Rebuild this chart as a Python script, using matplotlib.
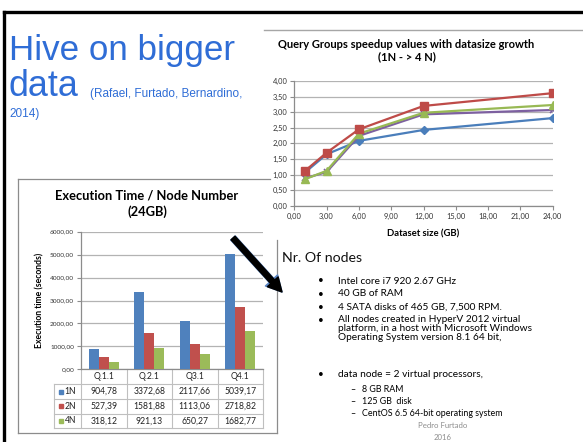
import matplotlib
matplotlib.use("Agg")
import matplotlib.pyplot as plt
import matplotlib.transforms as mtransforms
from matplotlib.patches import FancyArrowPatch
from matplotlib.lines import Line2D

# ---------------- data ----------------
# Line chart: speedup vs dataset size
dataset_sizes = [1, 3, 6, 12, 24]
speedup_blue = [1.07, 1.65, 2.08, 2.43, 2.81]
speedup_red = [1.12, 1.70, 2.45, 3.20, 3.61]
speedup_green = [0.85, 1.12, 2.31, 2.98, 3.23]
speedup_purple = [0.88, 1.08, 2.24, 2.93, 3.07]
line_xticks = [0, 3, 6, 9, 12, 15, 18, 21, 24]
line_yticks = [0, 0.5, 1.0, 1.5, 2.0, 2.5, 3.0, 3.5, 4.0]

# Bar chart: execution time per node number
queries = ["Q.1.1", "Q.2.1", "Q3.1", "Q4.1"]
series_names = ["1N", "2N", "4N"]
time_1n = [904.78, 3372.68, 2117.66, 5039.17]
time_2n = [527.39, 1581.88, 1113.06, 2718.82]
time_4n = [318.12, 921.13, 650.27, 1682.77]
bar_yticks = [0, 1000, 2000, 3000, 4000, 5000, 6000]

bullets = [["Intel core i7 920 2.67 GHz"],
           ["40 GB of RAM"],
           ["4 SATA disks of 465 GB, 7,500 RPM."],
           ["All nodes created in HyperV 2012 virtual",
            "platform, in a host with Microsoft Windows",
            "Operating System version 8.1 64 bit,"]]
sub_bullets = ["8 GB RAM", "125 GB  disk", "CentOS 6.5 64-bit operating system"]

W, H = 583, 442
fig = plt.figure(figsize=(W / 100, H / 100), dpi=100)
fig.patch.set_facecolor("white")

def fx(x):
    return x / W

def fy(y):
    return 1 - y / H

def fline(xs, ys, **kw):
    fig.add_artist(Line2D([fx(x) for x in xs], [fy(y) for y in ys],
                          transform=fig.transFigure, **kw))

def comma(v):
    return f"{v:.2f}".replace(".", ",")

CAL = ["Lato", "DejaVu Sans"]
blue_t = "#2F6DD6"

# ---------------- slide border ----------------
fline([4, W], [12, 12], color="black", lw=2.4, solid_capstyle="projecting")
fline([4, 4], [12, H], color="black", lw=2.4, solid_capstyle="projecting")

# ---------------- slide title ----------------
fig.text(fx(9), fy(60), "Hive on bigger", fontsize=25.2, color=blue_t,
         family=["Liberation Sans"], va="baseline", ha="left")
fig.text(fx(9), fy(96.5), "data", fontsize=25.8, color=blue_t,
         family=["Liberation Sans"], va="baseline", ha="left")
fig.text(fx(90), fy(97.5), "(Rafael, Furtado, Bernardino,", fontsize=8.5,
         color=blue_t, family=["Liberation Sans"], va="baseline", ha="left")
fig.text(fx(9), fy(116.5), "2014)", fontsize=8.5, color=blue_t,
         family=["Liberation Sans"], va="baseline", ha="left")

# ---------------- frames ----------------
gray_frame = "#8c8c8c"
fline([264, W], [30, 30], color="#a6a6a6", lw=1.0)
fline([18, 270], [179, 179], color=gray_frame, lw=0.9)
fline([18, 18], [179, 433], color=gray_frame, lw=0.9)
fline([18, 277], [433, 433], color=gray_frame, lw=0.9)
fline([277, 277], [240, 433], color=gray_frame, lw=0.9)

# ---------------- line chart ----------------
ax1 = fig.add_axes([fx(294.3), fy(205.7), (552.7 - 294.3) / W, (205.7 - 81) / H])
ax1.set_xlim(0, 24)
ax1.set_ylim(0, 4)
ax1.set_xticks(line_xticks)
ax1.set_yticks(line_yticks)
ax1.set_xticklabels([comma(v) for v in line_xticks])
ax1.set_yticklabels([comma(v) for v in line_yticks])
ax1.yaxis.grid(True, color="#b3b3b3", lw=0.9)
ax1.set_axisbelow(True)
for s in ["top", "right"]:
    ax1.spines[s].set_visible(False)
for s in ["left", "bottom"]:
    ax1.spines[s].set_color("#8c8c8c")
    ax1.spines[s].set_linewidth(0.9)
ax1.tick_params(axis="both", direction="out", length=3, width=0.8, color="#8c8c8c",
                labelsize=5.4, labelcolor="#333333", pad=2)
for lab in ax1.get_xticklabels() + ax1.get_yticklabels():
    lab.set_family(CAL)
ax1.plot(dataset_sizes, speedup_blue, color="#4A7EBB", lw=1.6, marker="D", ms=4.2,
         zorder=3)
ax1.plot(dataset_sizes, speedup_purple, color="#7D60A0", lw=1.6, marker="x", ms=5,
         mew=1.2, zorder=3)
ax1.plot(dataset_sizes, speedup_green, color="#98B954", lw=1.6, marker="^", ms=6,
         zorder=3)
ax1.plot(dataset_sizes, speedup_red, color="#BE4B48", lw=1.6, marker="s", ms=6,
         zorder=4)
ax1.set_xlabel("Dataset size (GB)", fontsize=6.8, fontweight="bold", family=CAL,
               labelpad=7)
fig.text(fx(406), fy(44), "Query Groups speedup values with datasize growth",
         fontsize=8.0, fontweight="bold", family=CAL, ha="center", va="center")
fig.text(fx(406.5), fy(56.5), "(1N - > 4 N)", fontsize=8.0, fontweight="bold",
         family=CAL, ha="center", va="center")

# ---------------- bar chart ----------------
ax_top, ax_bot = 231.7, 369.3
ax2 = fig.add_axes([fx(81), fy(ax_bot), (263 - 81) / W, (ax_bot - ax_top) / H])
colors = ["#4F81BD", "#C0504D", "#9BBB59"]
xs = list(range(len(queries)))
bw = 0.22
for i, (vals, c) in enumerate(zip([time_1n, time_2n, time_4n], colors)):
    ax2.bar([x + (i - 1) * bw for x in xs], vals, width=bw, color=c, zorder=3)
ax2.set_xlim(-0.5, len(queries) - 0.5)
ax2.set_ylim(0, 6000)
ax2.set_yticks(bar_yticks)
ax2.set_yticklabels([comma(v) for v in bar_yticks])
ax2.set_xticks([])
ax2.yaxis.grid(True, color="#b3b3b3", lw=0.9)
ax2.set_axisbelow(True)
for s in ["top", "right"]:
    ax2.spines[s].set_visible(False)
for s in ["left", "bottom"]:
    ax2.spines[s].set_color("#8c8c8c")
    ax2.spines[s].set_linewidth(0.9)
ax2.tick_params(axis="y", direction="out", length=3, width=0.8, color="#8c8c8c",
                labelsize=4.6, labelcolor="#333333", pad=2)
for lab in ax2.get_yticklabels():
    lab.set_family(CAL)
ax2.set_ylabel("Execution time (seconds)", fontsize=6.2, fontweight="bold",
               family=CAL, labelpad=4)
fig.text(fx(147), fy(196), "Execution Time / Node Number", fontsize=9.3,
         fontweight="bold", family=CAL, ha="center", va="center")
fig.text(fx(147), fy(212), "(24GB)", fontsize=9.3, fontweight="bold", family=CAL,
         ha="center", va="center")

# data table below the bar chart
blend = mtransforms.blended_transform_factory(ax2.transData, ax2.transAxes)
ppx = (263 - 81) / len(queries)          # pixels per category

def ay(ypx):
    return (ax_bot - ypx) / (ax_bot - ax_top)

def dx(xpx):
    return (xpx - 81) / ppx - 0.5

tcol = "#bfbfbf"
row_edges = [369.3, 384, 399, 413.6, 428.3]
leg_left = dx(54.3)
xr = len(queries) - 0.5
for k in range(len(queries) + 1):
    ax2.plot([k - 0.5, k - 0.5], [ay(row_edges[0]), ay(row_edges[-1])], color=tcol,
             lw=0.8, transform=blend, clip_on=False)
ax2.plot([leg_left, leg_left], [ay(row_edges[1]), ay(row_edges[-1])], color=tcol,
         lw=0.8, transform=blend, clip_on=False)
for ye in row_edges[1:]:
    ax2.plot([leg_left, xr], [ay(ye), ay(ye)], color=tcol, lw=0.8, transform=blend,
             clip_on=False)
for k, q in enumerate(queries):
    ax2.text(k, ay((row_edges[0] + row_edges[1]) / 2), q, fontsize=6.2, family=CAL,
             ha="center", va="center", transform=blend, color="#222222")
for r, (name, vals, c) in enumerate(zip(series_names, [time_1n, time_2n, time_4n],
                                        colors)):
    yc = ay((row_edges[r + 1] + row_edges[r + 2]) / 2)
    ax2.plot([dx(60.5)], [yc], marker="s", ms=3.4, color=c, transform=blend,
             clip_on=False)
    ax2.text(dx(64.5), yc, name, fontsize=6.2, family=CAL, ha="left", va="center",
             transform=blend, color="#222222")
    for k, v in enumerate(vals):
        ax2.text(k, yc, comma(v), fontsize=6.2, family=CAL, ha="center", va="center",
                 transform=blend, color="#222222")

# ---------------- arrow ----------------
for col, sc, z in [("#5b86c4", 12.5, 5), ("black", 11, 6)]:
    fig.add_artist(FancyArrowPatch((fx(233), fy(238)), (fx(282), fy(292)),
                                   transform=fig.transFigure,
                                   arrowstyle="simple,head_length=0.9,head_width=0.95,tail_width=0.35",
                                   mutation_scale=sc, color=col, zorder=z,
                                   shrinkA=0, shrinkB=0))

# ---------------- text block ----------------
fig.text(fx(282), fy(258), "Nr. Of nodes", fontsize=10.2, family=CAL, ha="left",
         va="center", color="#111111")
bullet_y = [281, 294, 307.3, 320]
line_step = 8.8
for yb, lines in zip(bullet_y, bullets):
    fig.text(fx(318), fy(yb), "•", fontsize=7.2, family=CAL, ha="left", va="center")
    for j, t in enumerate(lines):
        fig.text(fx(338), fy(yb + j * line_step), t, fontsize=7.3, family=CAL,
                 ha="left", va="center")
fig.text(fx(318), fy(374.3), "•", fontsize=7.2, family=CAL, ha="left", va="center")
fig.text(fx(338), fy(374.3), "data node = 2 virtual processors,", fontsize=7.3,
         family=CAL, ha="left", va="center")
for yb, t in zip([389.3, 401.7, 414], sub_bullets):
    fig.text(fx(350), fy(yb), "–", fontsize=6.4, family=CAL, ha="left", va="center")
    fig.text(fx(361.7), fy(yb), t, fontsize=6.4, family=CAL, ha="left", va="center")
fig.text(fx(443), fy(426), "Pedro Furtado", fontsize=5.6, family=CAL, ha="center",
         va="center", color="#8c8c8c")
fig.text(fx(443), fy(437.3), "2016", fontsize=5.6, family=CAL, ha="center",
         va="center", color="#8c8c8c")

fig.savefig("out.png", dpi=100, facecolor="white")
